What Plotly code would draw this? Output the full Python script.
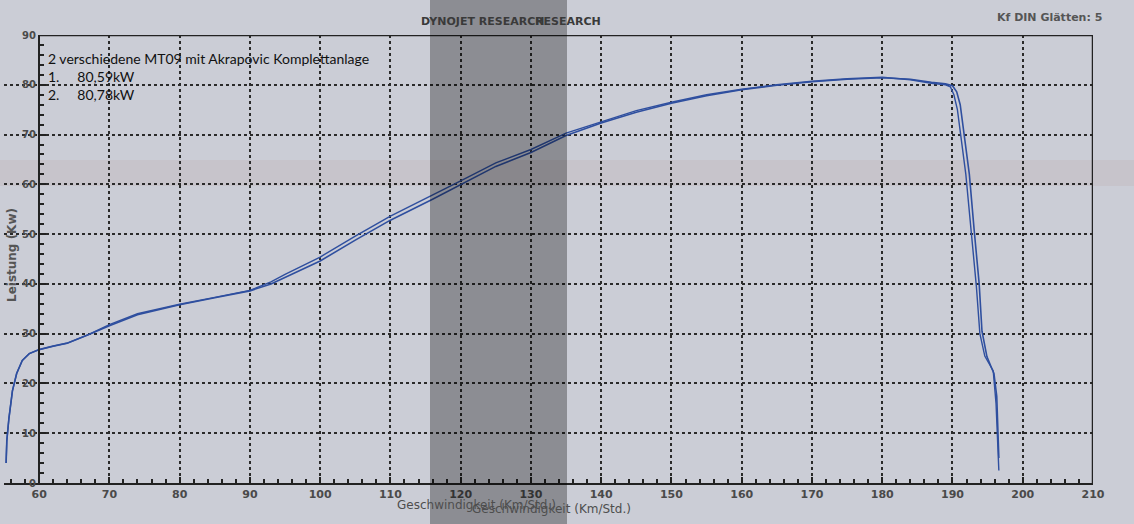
import plotly.graph_objects as go

# ---- data read from the dyno sheet ----
speed_1 = [55.3, 55.4, 55.7, 56.2, 56.8, 57.6, 58.6, 60.0, 62.0, 64.0, 67.0, 70.0, 74.0,
           80.0, 85.0, 90.0, 93.0, 95.0, 100.0, 105.0, 110.0, 116.0, 120.0, 125.0, 130.0,
           135.0, 140.0, 145.0, 150.0, 155.0, 160.0, 165.0, 170.0, 175.0, 180.0, 184.0,
           187.0, 189.0, 190.0, 190.6, 191.1, 191.7, 192.4, 193.1, 193.8, 194.2, 194.9,
           195.6, 195.9, 196.3, 196.6]
power_1 = [4.0, 8.5, 13.0, 18.5, 22.0, 24.6, 26.0, 26.8, 27.5, 28.1, 29.8, 31.6, 33.8,
           35.8, 37.2, 38.6, 40.0, 41.3, 44.6, 48.8, 52.8, 57.0, 60.0, 63.6, 66.4,
           69.8, 72.3, 74.5, 76.3, 77.8, 79.0, 79.9, 80.6, 81.1, 81.4, 81.1,
           80.5, 80.2, 79.8, 78.6, 76.0, 70.0, 62.0, 50.6, 40.0, 30.5, 25.4,
           23.0, 22.0, 17.4, 5.0]

speed_2 = [55.3, 55.4, 55.7, 56.2, 56.8, 57.6, 58.6, 60.0, 62.0, 64.0, 67.0, 70.0, 74.0,
           80.0, 85.0, 90.0, 93.0, 95.0, 100.0, 105.0, 110.0, 116.0, 120.0, 125.0, 130.0,
           135.0, 140.0, 145.0, 150.0, 155.0, 160.0, 165.0, 170.0, 175.0, 180.0, 184.0,
           187.0, 189.0, 189.7, 190.2, 190.7, 191.2, 191.9, 192.7, 193.4, 193.9, 194.6,
           195.4, 195.8, 196.2, 196.6]
power_2 = [4.0, 8.5, 13.0, 18.5, 22.0, 24.6, 26.0, 26.8, 27.5, 28.1, 29.8, 31.8, 34.0,
           35.9, 37.3, 38.7, 40.4, 41.9, 45.4, 49.6, 53.6, 57.8, 60.7, 64.3, 67.0,
           70.3, 72.6, 74.8, 76.5, 78.0, 79.1, 80.0, 80.7, 81.2, 81.5, 81.0,
           80.3, 80.0, 79.6, 78.0, 75.0, 70.0, 62.0, 50.0, 39.5, 30.0, 25.5,
           23.5, 22.5, 16.0, 2.5]

x_ticks = [60, 70, 80, 90, 100, 110, 120, 130, 140, 150, 160, 170, 180, 190, 200, 210]
y_ticks = [0, 10, 20, 30, 40, 50, 60, 70, 80, 90]

note_lines = ["2 verschiedene MT09 mit Akrapovic Komplettanlage",
              "1.\u00a0\u00a0\u00a0\u00a0 80,59kW",
              "2.\u00a0\u00a0\u00a0\u00a0 80,78kW"]

# ---- layout geometry (pixels) ----
W, H = 1134, 524
L, R, T, B = 4, 1093, 35, 483


def px(x):
    return (x - L) / (R - L)


def py(y):
    return (B - y) / (B - T)


BG = "#cbcdd6"
INK = "#222222"
GRID = "#2a2a2a"
LINE = "#2f4f9f"
GREY = "#4a4a4a"

fig = go.Figure()
fig.add_trace(go.Scatter(x=speed_1, y=power_1, mode="lines",
                         line=dict(color=LINE, width=1.6), showlegend=False))
fig.add_trace(go.Scatter(x=speed_2, y=power_2, mode="lines",
                         line=dict(color=LINE, width=1.4), showlegend=False))

fig.update_layout(
    width=W, height=H,
    margin=dict(l=L, r=W - R, t=T, b=H - B, autoexpand=False),
    paper_bgcolor=BG, plot_bgcolor=BG,
    showlegend=False,
    xaxis=dict(
        range=[55, 210], domain=[0, 1],
        tickvals=x_ticks, ticktext=[str(v) for v in x_ticks],
        showline=True, linecolor=INK, linewidth=2,
        ticks="inside", ticklen=6, tickcolor=INK, tickwidth=1.5,
        minor=dict(dtick=2, tick0=60, ticks="inside", ticklen=4, tickcolor=INK, showgrid=False),
        showgrid=True, gridcolor=GRID, gridwidth=1.8, griddash="dot",
        zeroline=False,
        tickfont=dict(family="DejaVu Sans", size=11, color=GREY, weight="bold"),
    ),
    yaxis=dict(
        range=[0, 90], anchor="free", position=px(39),
        tickvals=y_ticks, ticktext=[str(v) for v in y_ticks],
        showline=True, linecolor=INK, linewidth=2,
        ticks="inside", ticklen=6, tickcolor=INK, tickwidth=1.5,
        minor=dict(dtick=2, ticks="inside", ticklen=4, tickcolor=INK, showgrid=False),
        showgrid=True, gridcolor=GRID, gridwidth=1.8, griddash="dot",
        zeroline=False,
        tickfont=dict(family="DejaVu Sans", size=10, color=GREY, weight="bold"),
    ),
)

# frame: top and right border
fig.add_shape(type="line", xref="x", yref="y", x0=60, x1=210, y0=90, y1=90,
              line=dict(color=INK, width=2.5))
fig.add_shape(type="line", xref="x", yref="y", x0=210, x1=210, y0=0, y1=90,
              line=dict(color=INK, width=2.5))

# paper fold stripe
fig.add_shape(type="rect", xref="paper", yref="paper", x0=-0.01, x1=1.05,
              y0=py(186), y1=py(160), fillcolor="rgba(175,140,140,0.14)",
              line=dict(width=0), layer="below")

# darker overlap band of the photo
fig.add_shape(type="rect", xref="paper", yref="paper", x0=px(430), x1=px(567),
              y0=py(H), y1=py(0), fillcolor="rgba(0,0,0,0.31)",
              line=dict(width=0), layer="above")

ann_font = dict(family="DejaVu Sans", size=11, color="#3a3a3a", weight="bold")
fig.add_annotation(x=px(419), y=py(22), xref="paper", yref="paper", xanchor="left",
                   yanchor="middle", text="DYNOJET RESEARCH", showarrow=False, font=ann_font)
fig.add_annotation(x=px(533), y=py(22), xref="paper", yref="paper", xanchor="left",
                   yanchor="middle", text="RESEARCH", showarrow=False, font=ann_font)
fig.add_annotation(x=px(995), y=py(18), xref="paper", yref="paper", xanchor="left",
                   yanchor="middle", text="Kf DIN Glätten: 5", showarrow=False,
                   font=dict(family="DejaVu Sans", size=11, color="#555555", weight="bold"))

title_font = dict(family="DejaVu Sans", size=12, color="#4e4e4e")
fig.add_annotation(x=px(395), y=py(505), xref="paper", yref="paper", xanchor="left",
                   yanchor="middle", text="Geschwindigkeit (Km/Std.)", showarrow=False,
                   font=title_font)
fig.add_annotation(x=px(470), y=py(509), xref="paper", yref="paper", xanchor="left",
                   yanchor="middle", text="Geschwindigkeit (Km/Std.)", showarrow=False,
                   font=title_font)
fig.add_annotation(x=px(12), y=py(255), xref="paper", yref="paper", xanchor="center",
                   yanchor="middle", text="Leistung (Kw)", textangle=-90, showarrow=False,
                   font=dict(family="DejaVu Sans", size=12, color="#555555", weight="bold"))

fig.add_annotation(x=px(46), y=py(48), xref="paper", yref="paper", xanchor="left",
                   yanchor="top", align="left", text="<br>".join(note_lines),
                   showarrow=False, font=dict(family="Lato", size=14, color="#111111"))

fig.write_html("out.html", config={"displayModeBar": False},
               post_script="document.body.style.margin='0';document.body.style.overflow='hidden';")
